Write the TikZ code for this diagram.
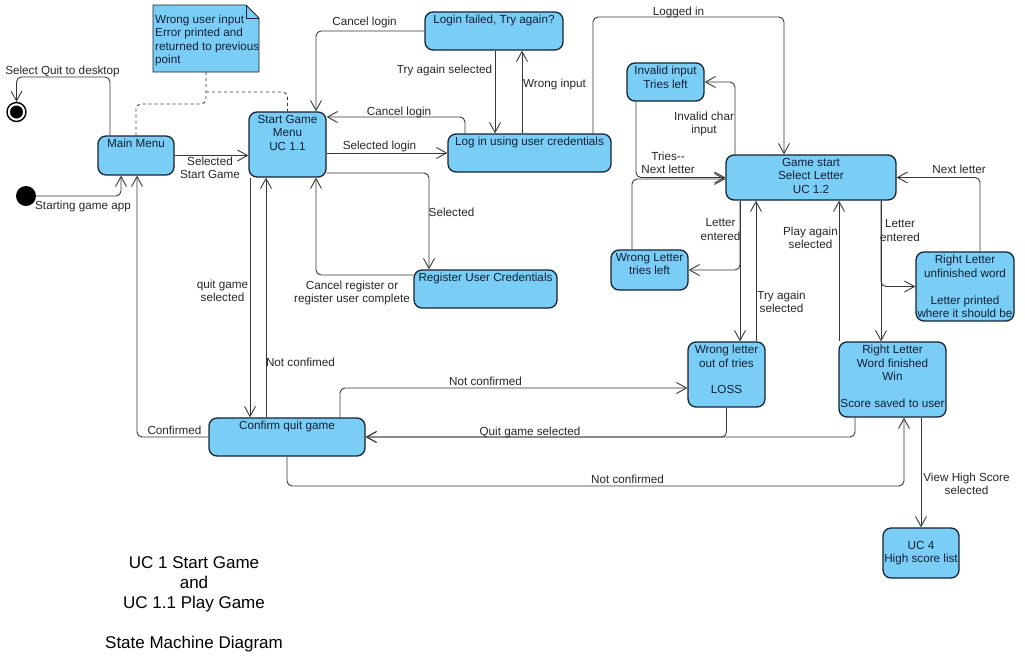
\documentclass[tikz,border=0pt]{standalone}
\usepackage{fontspec}
\setmainfont{Liberation Sans}
\usetikzlibrary{arrows.meta}
\definecolor{statefill}{RGB}{122,206,245}
\definecolor{stateline}{RGB}{22,34,52}
\definecolor{statetext}{RGB}{20,32,56}
\definecolor{wire}{RGB}{55,55,55}
\newcommand{\boxfont}{\fontsize{11.7}{13.5}\selectfont}
\newcommand{\titlefont}{\fontsize{17}{20}\selectfont}

\begin{document}
\begin{tikzpicture}[x=1pt, y=-1pt,
	state/.style={draw=stateline, fill=statefill, line width=1.3pt, rounded corners=8pt, inner sep=0pt},
	stext/.style={anchor=north, align=center, font=\boxfont, text=statetext, inner sep=0pt},
	lbl/.style={anchor=north, align=center, font=\boxfont, text=black!85, inner sep=0pt},
	trans/.style={draw=wire, line width=0.9pt, rounded corners=5pt, -{Straight Barb[length=10pt,width=11pt]}},
	notelink/.style={draw=black!80, line width=0.9pt, dashed, rounded corners=5pt},
	notebox/.style={draw=stateline, fill=statefill, line width=0.9pt}]
				\useasboundingbox (0,0) rectangle (1025,662);

				\foreach \n/\x/\y/\w/\h in {mm/136/155.5/76/39, sg/287.5/144.5/77/65, lf/494/31/138/38,
					li/529.5/153/163/38, rg/485.5/289/143/38, ii/665.5/82/77/38, gs/811/177.5/170/45,
					wl/649.5/270/77/40, ru/965/286.5/98/69, lo/726.5/374.5/77/65, wi/892.5/379.5/107/75,
					cq/287/437/156/38, uc/921/553/76/50}
				\node[state, minimum width=\w pt, minimum height=\h pt] (\n) at (\x,\y) {};

				\foreach \n/\t in {mm/Main Menu, sg/{Start Game\\Menu\\UC 1.1}, lf/{Login failed, Try again?},
					li/Log in using user credentials, rg/Register User Credentials, ii/{Invalid input\\Tries left},
					gs/{Game start\\Select Letter\\UC 1.2}, wl/{Wrong Letter\\tries left},
					ru/{Right Letter\\unfinished word\\[13.5pt]Letter printed\\where it should be},
					lo/{Wrong letter\\out of tries\\[13pt]LOSS},
					wi/{Right Letter\\Word finished\\Win\\[13.5pt]Score saved to user}, cq/Confirm quit game}
				\node[stext] (\n-t) at ([yshift=-3.5pt]\n.north) {\t};
				\node[stext, anchor=center] (uc-t) at (uc) {UC 4\\High score list};

				\filldraw[notebox] (153,5) -- (246,5) -- (259,18) -- (259,72) -- (153,72) -- cycle;
				\draw[notebox, fill=none] (246,5) -- (246,18) -- (259,18);
				\node[anchor=north west, font=\boxfont, text=statetext, align=left, inner sep=1pt] (note) at (154,13.5)
				{Wrong user input\\Error printed and\\returned to previous\\point};

				\node[circle, fill=black, minimum size=20pt, inner sep=0pt] (init) at (26,196) {};
				\node[circle, draw=black, line width=1.4pt, minimum size=19pt, inner sep=0pt] (fin) at (16.5,112) {};
				\node[circle, fill=black, minimum size=13pt, inner sep=0pt] (fin-dot) at (fin) {};

				\draw[notelink] (206,72) -- (206,104) -| (mm.north);
				\draw[notelink] (206,92) -| (sg.north);

				\draw[trans] (init.east) -| ([xshift=-15pt]mm.south);
				\draw[trans] ([xshift=-26pt]mm.north) |- (16.5,77) -- (fin.north);
				\draw[trans] (mm.east) -- (mm.east -| sg.west);
				\draw[trans] (sg.east |- li.west) -- (li.west);
				\draw[trans] ([xshift=-64.5pt]li.north) |- (sg.east |- 0,117);
				\draw[trans] (lf.west) -| ([xshift=28.5pt]sg.north);
				\draw[trans] ([xshift=1pt]lf.south) -- ([xshift=-34.5pt]li.north);
				\draw[trans] ([xshift=-7.5pt]li.north) -- ([xshift=28pt]lf.south);
				\draw[trans] ([xshift=63.5pt]li.north) |- (784,17) -- ([xshift=-27pt]gs.north);
				\draw[trans] (sg.east |- 0,173) -| ([xshift=-56.5pt]rg.north);
				\draw[trans] (rg.west |- 0,275) -| ([xshift=28.5pt]sg.south);
				\draw[trans] ([xshift=-37.5pt]sg.south) -- ([xshift=-37.5pt]sg.south |- cq.north);
				\draw[trans] ([xshift=-21pt]cq.north) -- ([xshift=-21pt]cq.north |- sg.south);
				\draw[trans] (cq.west) -| ([xshift=1pt]mm.south);
				\draw[trans] ([xshift=53pt]cq.north) |- (lo.west |- 0,388);
				\draw[trans] (lo.south) |- (cq.east);
				\draw[trans] ([xshift=-37.5pt]wi.south) |- (cq.east);
				\draw[trans] (cq.south) |- (904,486) -- ([xshift=11.5pt]wi.south);
				\draw[trans] ([xshift=28.5pt]wi.south) -- (uc.north);
				\draw[trans] ([xshift=-76pt]gs.north) |- (ii.east);
				\draw[trans] ([xshift=-29.5pt]ii.south) |- (gs.west);
				\draw[trans] ([xshift=-17.5pt]wl.north) |- ([yshift=-1.5pt]gs.west);
				\draw[trans] ([xshift=-71pt]gs.south) |- (wl.east);
				\draw[trans] ([xshift=-71pt]gs.south) -- ([xshift=13.5pt]lo.north);
				\draw[trans] ([xshift=29.5pt]lo.north) -- ([xshift=-55pt]gs.south);
				\draw[trans] ([xshift=-53.5pt]wi.north) -- ([xshift=28pt]gs.south);
				\draw[trans] ([xshift=70pt]gs.south) -- ([xshift=-11.5pt]wi.north);
				\draw[trans] ([xshift=70pt]gs.south) |- (ru.west);
				\draw[trans] ([xshift=15pt]ru.north) |- (gs.east);

				\node[lbl] (l-quit) at (62.5,65.5) {Select Quit to desktop};
				\node[lbl] (l-start) at (83,201) {Starting game app};
				\node[lbl] (l-selstart) at (210,156.5) {Selected\\Start Game};
				\node[lbl] (l-cancel1) at (364.5,16.5) {Cancel login};
				\node[lbl] (l-cancel2) at (399,106.5) {Cancel login};
				\node[lbl] (l-sellogin) at (379.5,140.5) {Selected login};
				\node[lbl] (l-tryagain) at (444.5,64.5) {Try again selected};
				\node[lbl] (l-wrong) at (554.5,78.5) {Wrong input};
				\node[lbl] (l-logged) at (678.5,6.5) {Logged in};
				\node[lbl] (l-selreg) at (451.5,207.5) {Selected};
				\node[lbl] (l-cancelreg) at (352,280.5) {Cancel register or\\register user complete};
				\node[lbl] (l-quitsel) at (222.5,279.5) {quit game\\selected};
				\node[lbl] (l-notconf1) at (300.5,357.5) {Not confimed};
				\node[lbl] (l-confirmed) at (174.5,425.5) {Confirmed};
				\node[lbl] (l-notconf2) at (485.5,376.5) {Not confirmed};
				\node[lbl] (l-quitgame) at (530,426.5) {Quit game selected};
				\node[lbl] (l-notconf3) at (627.5,474.5) {Not confirmed};
				\node[lbl] (l-highscore) at (966.5,472.5) {View High Score\\selected};
				\node[lbl] (l-invalid) at (704,111.5) {Invalid char\\input};
				\node[lbl] (l-tries) at (668,151.5) {Tries-{}-\\Next letter};
				\node[lbl] (l-entered1) at (720.5,218.5) {Letter\\entered};
				\node[lbl] (l-tryagain2) at (781.5,290.5) {Try again\\selected};
				\node[lbl] (l-playagain) at (810.5,226.5) {Play again\\selected};
				\node[lbl] (l-entered2) at (900,219.5) {Letter\\entered};
				\node[lbl] (l-next) at (959,164.5) {Next letter};

				\node[anchor=north, align=center, font=\titlefont, inner sep=0pt] (title) at (194,556)
				{UC 1 Start Game\\and\\UC 1.1 Play Game\\[20pt]State Machine Diagram};
			\end{tikzpicture}
\end{document}
